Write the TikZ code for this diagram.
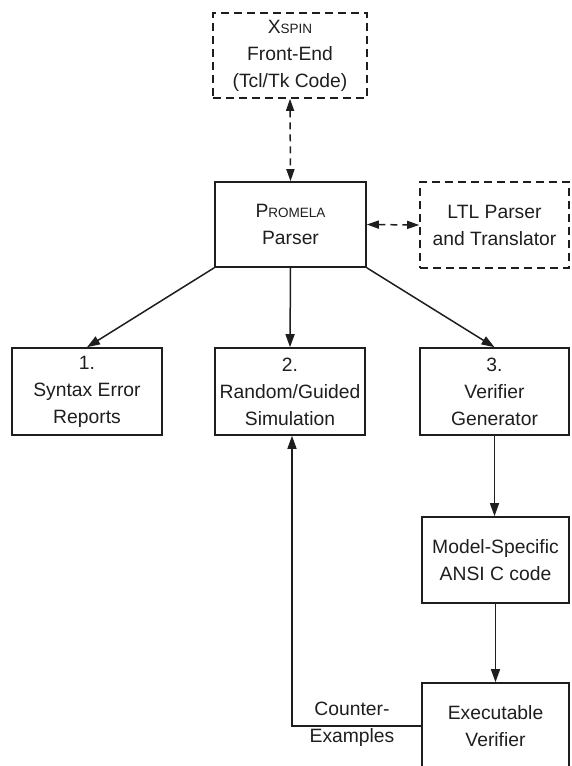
\documentclass[tikz,border=0pt]{standalone}
\usepackage{fontspec}
\setmainfont{Liberation Sans}
\usetikzlibrary{arrows.meta}
\definecolor{ink}{HTML}{1E1E1E}
\newcommand{\smc}[2]{#1{\fontsize{13.5}{15}\selectfont #2}}
\begin{document}
\begin{tikzpicture}[x=1pt,y=-1pt,
  boxst/.style={draw=ink,line width=1.6pt,align=center,inner sep=0pt,text=ink,
     font=\fontsize{19.3}{27}\selectfont},
  dboxst/.style={boxst,dashed,dash pattern=on 8pt off 5pt},
  arr/.style={draw=ink,line width=1.5pt,-{Triangle[length=13pt,width=9pt]}},
  darr/.style={draw=ink,line width=1.5pt,dash pattern=on 7pt off 5pt,
     {Triangle[length=12pt,width=8pt]}-{Triangle[length=12pt,width=8pt]}}]
\useasboundingbox (0,0) rectangle (571,766);
\node[dboxst,minimum width=154pt,minimum height=85pt] (xspin) at (290,55.5)
  {\smc{X}{SPIN}\\Front-End\\(Tcl/Tk Code)};
\node[boxst,minimum width=151pt,minimum height=85pt] (prom) at (290.5,224.5)
  {\smc{P}{ROMELA}\\Parser};
\node[dboxst,minimum width=149pt,minimum height=86pt] (ltl) at (494.5,225)
  {LTL Parser\\and Translator};
\node[boxst,minimum width=150pt,minimum height=87pt] (b1) at (87,391.5)
  {1.\\Syntax Error\\Reports};
\node[boxst,minimum width=150pt,minimum height=87pt] (b2) at (290,391.5)
  {2.\\Random/Guided\\Simulation};
\node[boxst,minimum width=149pt,minimum height=87pt] (b3) at (494.5,391.5)
  {3.\\Verifier\\Generator};
\node[boxst,minimum width=147pt,minimum height=86pt] (msc) at (495.5,560)
  {Model-Specific\\ANSI C code};
\node[boxst,minimum width=147pt,minimum height=86pt] (exe) at (495.5,726)
  {Executable\\Verifier};
\node[align=center,inner sep=0pt,text=ink,font=\fontsize{19.3}{27}\selectfont] (ce) at (352,724)
  {Counter-\\Examples};
\draw[darr] (xspin.south) -- (prom.north);
\draw[darr] (prom.east) -- (ltl.west);
\draw[arr] (prom.south west) -- (b1.north);
\draw[arr] (prom.south) -- (b2.north);
\draw[arr] (prom.south east) -- (b3.north);
\draw[arr] (b3.south) -- (b3.south |- msc.north);
\draw[arr] (msc.south) -- (exe.north);
\draw[arr] (exe.west) -| ([xshift=2pt]b2.south);
\end{tikzpicture}
\end{document}
